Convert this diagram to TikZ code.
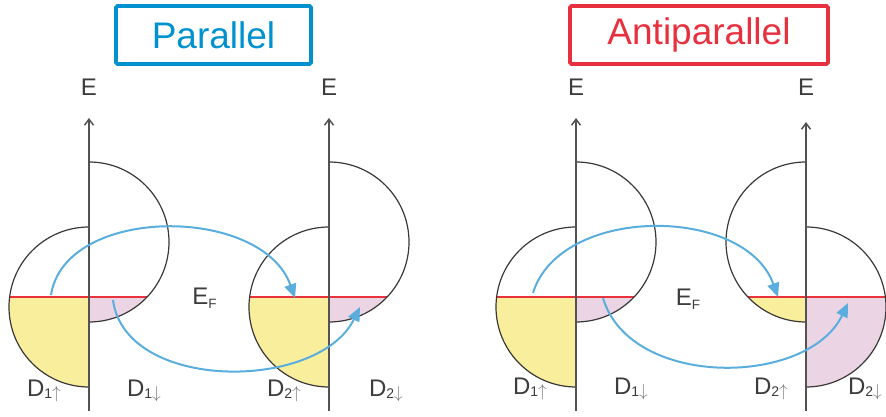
\documentclass[tikz,border=0pt]{standalone}
\usepackage{fontspec}
\setmainfont{Liberation Sans}
\usetikzlibrary{arrows.meta}
\definecolor{parcol}{HTML}{0092CF}
\definecolor{antcol}{HTML}{E8313F}
\definecolor{upfill}{HTML}{F9EE9C}
\definecolor{downfill}{HTML}{EBD4E3}
\definecolor{fermicol}{HTML}{E8323C}
\definecolor{tunnelcol}{HTML}{5AAEDD}
\definecolor{labcol}{HTML}{3C3C3C}
\definecolor{arrgray}{HTML}{7A7A7A}
\tikzset{
  titlebox/.style={draw=#1, text=#1, line width=3.6pt, rounded corners=1.5pt,
    minimum height=58pt, inner sep=0pt, font=\fontsize{37}{37}\selectfont},
  lab/.style={inner sep=0pt, anchor=base, text=labcol,
    font=\fontsize{24}{24}\selectfont},
  dosline/.style={draw=black!78, line width=1.2pt},
  fermiline/.style={draw=fermicol, line width=1.5pt},
  axisline/.style={draw=black!68, line width=1.5pt,
    -{Straight Barb[length=6pt, width=9pt]}},
  tunnel/.style={draw=tunnelcol, line width=2pt,
    -{Triangle[length=14pt, width=12pt]}}}
% half of a density of states: axis x, centre y, delta angle, fill
\newcommand{\doshalf}[4]{%
  \begin{scope}
    \clip (#1,#2+80) arc[start angle=90, delta angle=#3, radius=80] -- cycle;
    \fill[#4] (#1-85,0) rectangle (#1+85,120);
    \draw[fermiline] (#1-85,120) -- (#1+85,120);
  \end{scope}
  \draw[dosline] (#1,#2+80) arc[start angle=90, delta angle=#3, radius=80];}
\newcommand{\dlab}[2]{D\raisebox{-1.5pt}{\fontsize{14}{14}\selectfont #1{\color{arrgray}\fontsize{17}{17}\selectfont$#2$}}}
\newcommand{\eflab}{E\raisebox{-4pt}{\fontsize{13.5}{14}\selectfont F}}

\begin{document}
\begin{tikzpicture}[x=1pt, y=1pt]
  \useasboundingbox (0,0) rectangle (886,417);
  % titles
  \node[titlebox=parcol, minimum width=195pt] (partitle) at (213.5,382) {Parallel};
  \node[titlebox=antcol, minimum width=258pt] (anttitle) at (699,382) {Antiparallel};
  % parallel
  \doshalf{89}{110}{180}{upfill}
  \doshalf{89}{175}{-180}{downfill}
  \doshalf{329}{110}{180}{upfill}
  \doshalf{329}{175}{-180}{downfill}
  % antiparallel
  \doshalf{576}{110}{180}{upfill}
  \doshalf{576}{175}{-180}{downfill}
  \doshalf{806}{175}{180}{upfill}
  \doshalf{806}{110}{-180}{downfill}
  % energy axes
  \foreach \ax/\tp in {89/299, 329/299, 576/299, 806/295} {
    \coordinate (bot\ax) at (\ax,6);
    \coordinate (top\ax) at (\ax,\tp);
    \draw[axisline] (bot\ax) -- (top\ax);
    \node[lab, anchor=center] (e\ax) at (\ax,329.5) {E};
  }
  % labels
  \node[lab] (paronu) at (44,20)  {\dlab{1}{\uparrow}};
  \node[lab] (paroned) at (144,20) {\dlab{1}{\downarrow}};
  \node[lab] (partwou) at (284,20) {\dlab{2}{\uparrow}};
  \node[lab] (partwod) at (386,20) {\dlab{2}{\downarrow}};
  \node[lab] (antonu) at (530,22) {\dlab{1}{\uparrow}};
  \node[lab] (antoned) at (631,22) {\dlab{1}{\downarrow}};
  \node[lab] (anttwou) at (771,22) {\dlab{2}{\uparrow}};
  \node[lab] (anttwod) at (865,22) {\dlab{2}{\downarrow}};
  \node[lab] (parfermi) at (204.5,112) {\eflab};
  \node[lab] (antfermi) at (688,111) {\eflab};
  % tunnelling paths
  \coordinate (ps1) at (51,122);  \coordinate (pt1) at (295,119);
  \coordinate (ps2) at (113,117); \coordinate (pt2) at (360,110);
  \coordinate (as1) at (533,124); \coordinate (at1) at (778,120);
  \coordinate (as2) at (603,119); \coordinate (at2) at (848,114);
  \draw[tunnel] (ps1) .. controls (65,212) and (262,212) .. (pt1);
  \draw[tunnel] (ps2) .. controls (125,25) and (318,25) .. (pt2);
  \draw[tunnel] (as1) .. controls (560,212) and (745,212) .. (at1);
  \draw[tunnel] (as2) .. controls (630,28) and (808,30) .. (at2);
\end{tikzpicture}
\end{document}
